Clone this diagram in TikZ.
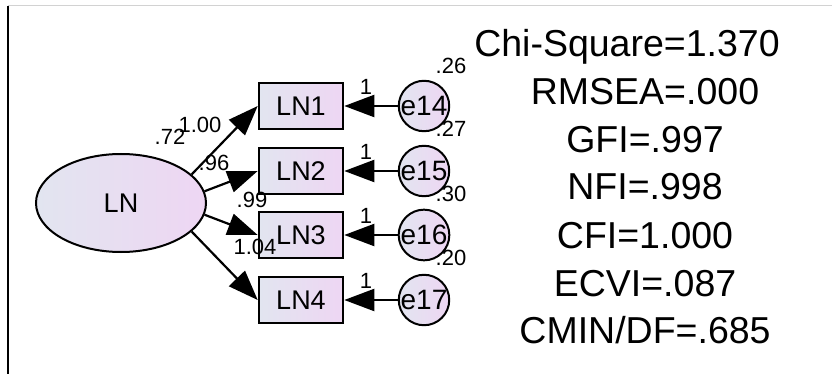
\documentclass[tikz,border=0pt]{standalone}
\usepackage{fontspec}
\setmainfont{Liberation Sans}
\usetikzlibrary{shapes.geometric,arrows.meta}
\definecolor{fillL}{RGB}{226,229,240}
\definecolor{fillR}{RGB}{238,214,243}

\begin{document}
\begin{tikzpicture}[x=1pt,y=-1pt,
    latent/.style={ellipse,draw,line width=2pt,left color=fillL,right color=fillR,
      minimum width=170pt,minimum height=98pt,font=\fontsize{27}{30}\selectfont},
    obs/.style={rectangle,draw,line width=2.6pt,left color=fillL,right color=fillR,
      minimum width=84pt,minimum height=46pt,font=\fontsize{27}{30}\selectfont},
    err/.style={circle,draw,line width=2pt,left color=fillL,right color=fillR,
      minimum size=48pt,inner sep=0pt,font=\fontsize{28}{30}\selectfont},
    est/.style={font=\fontsize{22}{24}\selectfont,inner sep=0pt},
    fitline/.style={font=\fontsize{37.5}{44}\selectfont,inner sep=0pt,anchor=base},
    reg/.style={line width=2.2pt,-{Triangle[length=30pt,width=22pt]}}]
        \useasboundingbox (0,0) rectangle (832,374);
        % Frame
        \draw[gray!35,line width=1pt] (8,6) -- (832,6);
        \draw[line width=2pt] (8,6) -- (8,374);

        % Define node positions
        \node[latent] (LN) at (121,203) {LN};
        \node[obs] (LN1) at (301,106) {LN1};
        \node[obs] (LN2) at (301,171) {LN2};
        \node[obs] (LN3) at (301,235) {LN3};
        \node[obs] (LN4) at (301,300) {LN4};
        \node[err] (e14) at (424,106) {e14};
        \node[err] (e15) at (424,171) {e15};
        \node[err] (e16) at (424,235) {e16};
        \node[err] (e17) at (424,300) {e17};

        % Draw arrows
        \draw[reg] (LN.22) -- (LN1.west);
        \draw[reg] (LN.8) -- (LN2.west);
        \draw[reg] (LN.-8) -- (LN3.west);
        \draw[reg] (LN.-22) -- (LN4.west);
        \draw[reg] (e14) -- (LN1.east);
        \draw[reg] (e15) -- (LN2.east);
        \draw[reg] (e16) -- (LN3.east);
        \draw[reg] (e17) -- (LN4.east);

        % Estimates
        \node[est] (vLN) at (170,137) {.72};
        \node[est] (w1) at (200,125) {1.00};
        \node[est] (w2) at (214,163) {.96};
        \node[est] (w3) at (252,200) {.99};
        \node[est] (w4) at (255,247) {1.04};
        \node[est] (f1) at (366,87) {1};
        \node[est] (f2) at (366,152) {1};
        \node[est] (f3) at (366,216) {1};
        \node[est] (f4) at (366,281) {1};
        \node[est] (v14) at (451,66) {.26};
        \node[est] (v15) at (451,129) {.27};
        \node[est] (v16) at (451,194) {.30};
        \node[est] (v17) at (451,258) {.20};

        % Fit indices
        \node[fitline] (chi) at (627,57) {Chi-Square=1.370};
        \node[fitline] (rmsea) at (645,105) {RMSEA=.000};
        \node[fitline] (gfi) at (645,153) {GFI=.997};
        \node[fitline] (nfi) at (645,200) {NFI=.998};
        \node[fitline] (cfi) at (645,248) {CFI=1.000};
        \node[fitline] (ecvi) at (645,296) {ECVI=.087};
        \node[fitline] (cmin) at (645,343) {CMIN/DF=.685};
\end{tikzpicture}
\end{document}
